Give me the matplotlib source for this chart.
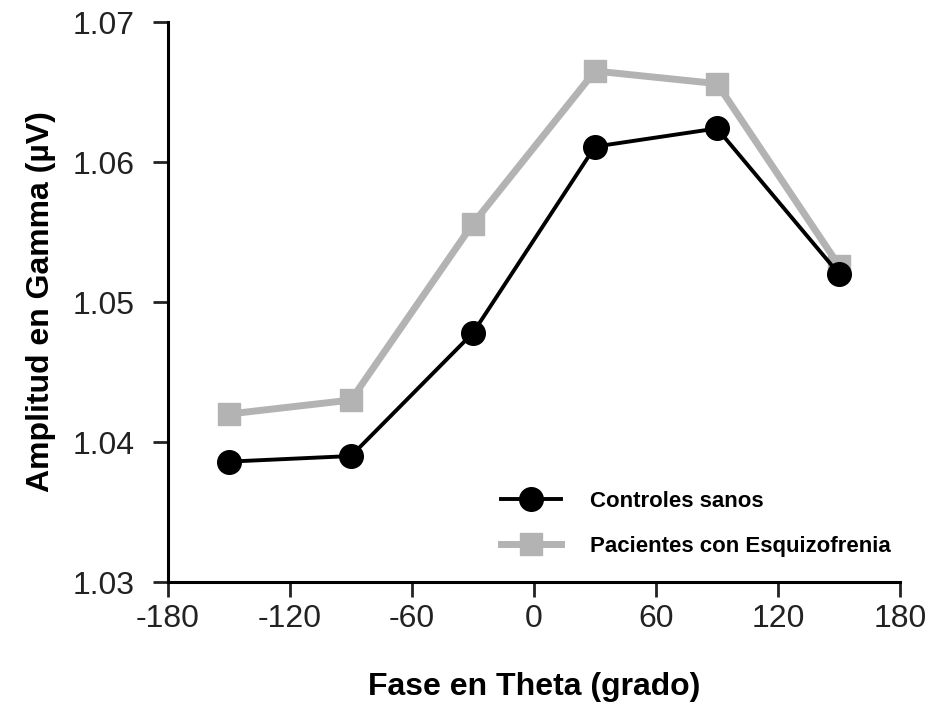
import numpy as np
import matplotlib.pyplot as plt

plt.rcParams['font.family'] = ['Liberation Sans', 'DejaVu Sans']
plt.rcParams['axes.unicode_minus'] = False

fase = [-150, -90, -30, 30, 90, 150]
controles = [1.0386, 1.0390, 1.0478, 1.0611, 1.0624, 1.0520]
pacientes = [1.0420, 1.0430, 1.0556, 1.0665, 1.0656, 1.0526]

xticks = [-180, -120, -60, 0, 60, 120, 180]
yticks = [1.03, 1.04, 1.05, 1.06, 1.07]

fig = plt.figure(figsize=(9.35, 7.13), dpi=100)
ax = fig.add_axes([0.1797, 0.1837, 0.7829, 0.7854])

ax.plot(fase, pacientes, color='#b3b3b3', lw=5, marker='s', ms=16.5,
        label='Pacientes con Esquizofrenia', zorder=2)
ax.plot(fase, controles, color='black', lw=2.8, marker='o', ms=17,
        label='Controles sanos', zorder=3)

ax.set_xlim(-180, 180)
ax.set_ylim(1.03, 1.07)
ax.set_xticks(xticks)
ax.set_yticks(yticks)
ax.set_yticklabels(['%.2f' % v for v in yticks])
ax.tick_params(direction='out', length=11, width=2, labelsize=23, colors='#222222')
ax.tick_params(axis='x', pad=5)
ax.tick_params(axis='y', pad=13)

for s in ['top', 'right']:
    ax.spines[s].set_visible(False)
for s in ['left', 'bottom']:
    ax.spines[s].set_linewidth(2.2)

ax.set_xlabel('Fase en Theta (grado)', fontsize=23, fontweight='bold', labelpad=27)
ax.set_ylabel('Amplitud en Gamma (µV)', fontsize=23, fontweight='bold', labelpad=12)

h, l = ax.get_legend_handles_labels()
leg = ax.legend(h[::-1], l[::-1], loc='center left', bbox_to_anchor=(0.4276, 0.1036),
                frameon=False, prop={'weight': 'bold', 'size': 16},
                handlelength=2.7, labelspacing=1.1, handletextpad=1.3)

plt.savefig('out.png', dpi=100)
